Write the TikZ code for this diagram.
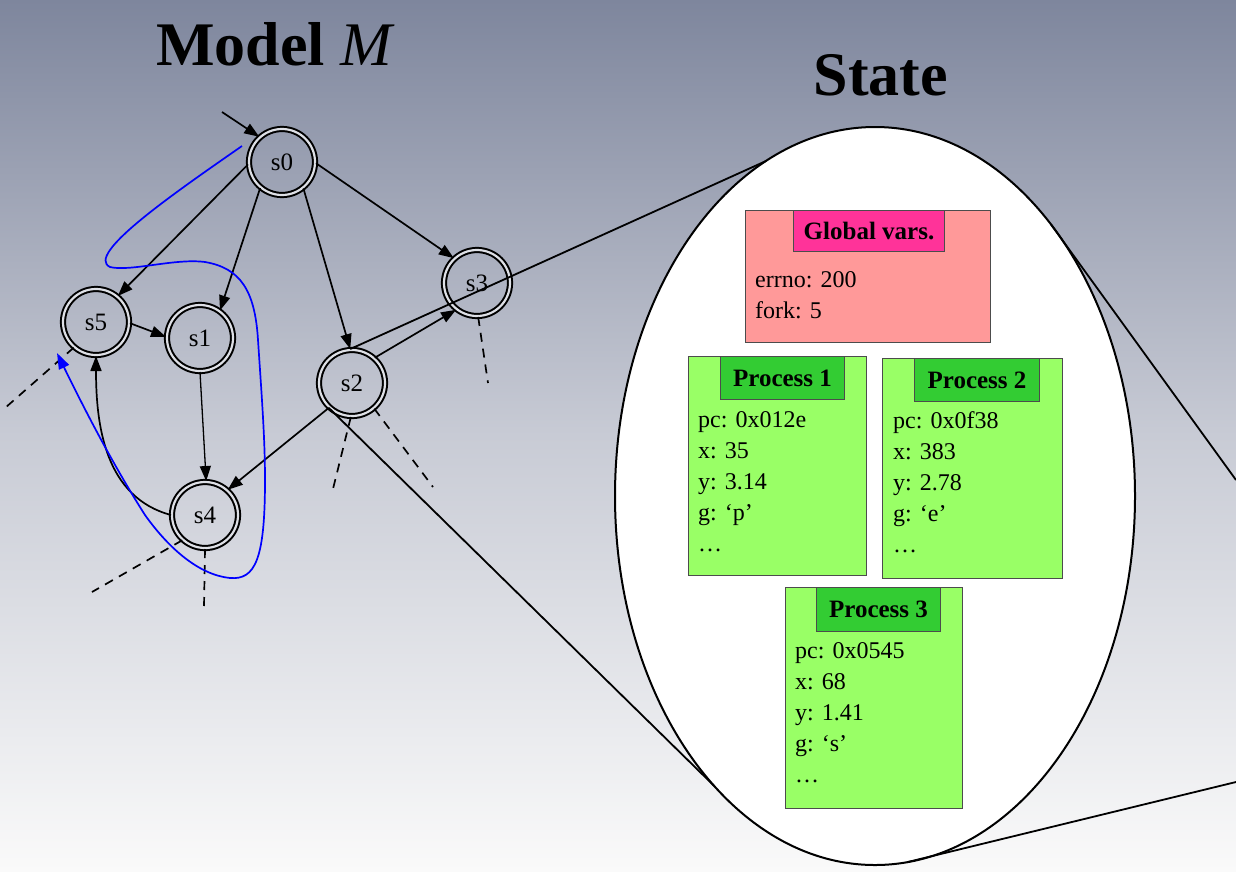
\documentclass[tikz,border=0pt]{standalone}
\usepackage{fontspec}
\setmainfont{Liberation Serif}
\usetikzlibrary{shapes.geometric,arrows.meta}
\definecolor{bgtop}{RGB}{126,134,157}
\definecolor{bgmid}{RGB}{200,203,213}
\definecolor{bgbot}{RGB}{250,250,250}
\definecolor{ghead}{RGB}{255,51,153}
\definecolor{gbody}{RGB}{255,153,153}
\definecolor{phead}{RGB}{51,204,51}
\definecolor{pbody}{RGB}{153,255,102}
\definecolor{ringgap}{RGB}{222,224,230}
\begin{document}
\begin{tikzpicture}[x=1pt,y=1pt,
  state/.style={circle, draw=black, line width=2pt, double=ringgap, double distance=2.2pt,
    minimum size=66pt, inner sep=0pt, font=\fontsize{25}{28}\selectfont},
  arr/.style={line width=1.7pt, -{Triangle[length=15pt,width=11pt]}},
  dsh/.style={line width=1.7pt, dash pattern=on 9pt off 7pt},
  zoomline/.style={line width=1.8pt},
  panel/.style={draw=black!70, line width=1pt, anchor=north west, inner sep=0pt},
  hdr/.style={panel, font=\fontsize{25}{28}\selectfont\bfseries},
  vals/.style={anchor=north west, align=left, inner sep=0pt, font=\fontsize{24}{31}\selectfont},
  title/.style={font=\fontsize{62}{70}\selectfont\bfseries, anchor=base, inner sep=0pt}
]
\useasboundingbox (0,0) rectangle (1236,-871);
\shade[top color=bgtop, bottom color=bgbot, middle color=bgmid] (0,0) rectangle (1236,-871);

% titles
\node[title] (tmodel) at (274,-65) {Model {\mdseries\itshape M}};
\node[title] (tstate) at (881,-95) {State};

% state ellipse
\node[ellipse, draw=black, fill=white, line width=2pt, minimum width=520pt, minimum height=738pt,
  inner sep=0pt, outer sep=0pt] (st) at (875,-496) {};

% states
\node[state] (s0) at (282,-162) {s0};
\node[state] (s5) at (96,-322) {s5};
\node[state] (s1) at (200,-338) {s1};
\node[state] (s2) at (352,-383) {s2};
\node[state] (s3) at (477,-283) {s3};
\node[state] (s4) at (205,-515) {s4};

% zoom lines
\coordinate (zr1) at (1236,-480);
\coordinate (zr2) at (1236,-782);
\draw[zoomline] (s2.93) -- (st.108.6);
\draw[zoomline] (s2.227) -- (st.241.2);
\draw[zoomline] (st.57.3) -- (zr1);
\draw[zoomline] (st.275) -- (zr2);

% global vars
\node[panel, fill=gbody, minimum width=245pt, minimum height=132pt] (gv) at (745,-210) {};
\node[hdr, fill=ghead, minimum width=151pt, minimum height=41pt] (gvh) at (793,-210) {Global vars.};
\node[vals] (gvt) at (755,-265.3) {\strut errno: 200\\fork: 5};

% process 1
\node[panel, fill=pbody, minimum width=178pt, minimum height=219pt] (p1) at (688,-356) {};
\node[hdr, fill=phead, minimum width=124pt, minimum height=43pt] (p1h) at (720,-356) {Process 1};
\node[vals] (p1t) at (698,-405.3) {\strut pc: 0x012e\\x: 35\\y: 3.14\\g: ‘p’\\…};

% process 2
\node[panel, fill=pbody, minimum width=180pt, minimum height=220pt] (p2) at (882,-358) {};
\node[hdr, fill=phead, minimum width=125pt, minimum height=43pt] (p2h) at (914,-358) {Process 2};
\node[vals] (p2t) at (893,-406.3) {\strut pc: 0x0f38\\x: 383\\y: 2.78\\g: ‘e’\\…};

% process 3
\node[panel, fill=pbody, minimum width=177pt, minimum height=221pt] (p3) at (785,-587) {};
\node[hdr, fill=phead, minimum width=124pt, minimum height=44pt] (p3h) at (816,-587) {Process 3};
\node[vals] (p3t) at (795,-636.3) {\strut pc: 0x0545\\x: 68\\y: 1.41\\g: ‘s’\\…};

% transitions
\coordinate (init) at (222,-112);
\draw[arr] (init) -- (s0.132);
\draw[arr] (s0.184) -- (s5.50);
\draw[arr] (s0.230) -- (s1.54);
\draw[arr] (s0.309) -- (s2.93);
\draw[arr] (s0.358) -- (s3.133);
\draw[arr] (s5.358) -- (s1.178);
\draw[arr, line width=1.3pt] (s1.270) -- (s4.88);
\draw[arr] (s2.48) -- (s3.232);
\draw[arr] (s2.227) -- (s4.48);
\draw[arr] (s4.180) to[out=165,in=-90] (s5.270);

% dashed continuations
\coordinate (d1) at (5,-408);
\coordinate (d2) at (92,-592);
\coordinate (d3) at (204,-607);
\coordinate (d4) at (332,-493);
\coordinate (d5) at (433,-487);
\coordinate (d6) at (488,-383);
\draw[dsh] (s5.229) -- (d1);
\draw[dsh] (s4.228) -- (d2);
\draw[dsh] (s4.270) -- (d3);
\draw[dsh] (s2.268) -- (d4);
\draw[dsh] (s2.311) -- (d5);
\draw[dsh] (s3.272) -- (d6);

% blue path
\coordinate (bstart) at (242,-146);
\coordinate (bend) at (57,-353);
\draw[blue, line width=1.7pt, -{Triangle[length=16pt,width=11pt]}] (bstart)
  .. controls (170,-196) and (85,-255) .. (110,-267)
  .. controls (130,-272) and (175,-258) .. (205,-262)
  .. controls (240,-268) and (255,-290) .. (258,-340)
  .. controls (262,-400) and (265,-440) .. (265,-480)
  .. controls (265,-560) and (255,-580) .. (230,-578)
  .. controls (200,-575) and (170,-550) .. (145,-515)
  .. controls (110,-460) and (80,-400) .. (bend);
\end{tikzpicture}
\end{document}
